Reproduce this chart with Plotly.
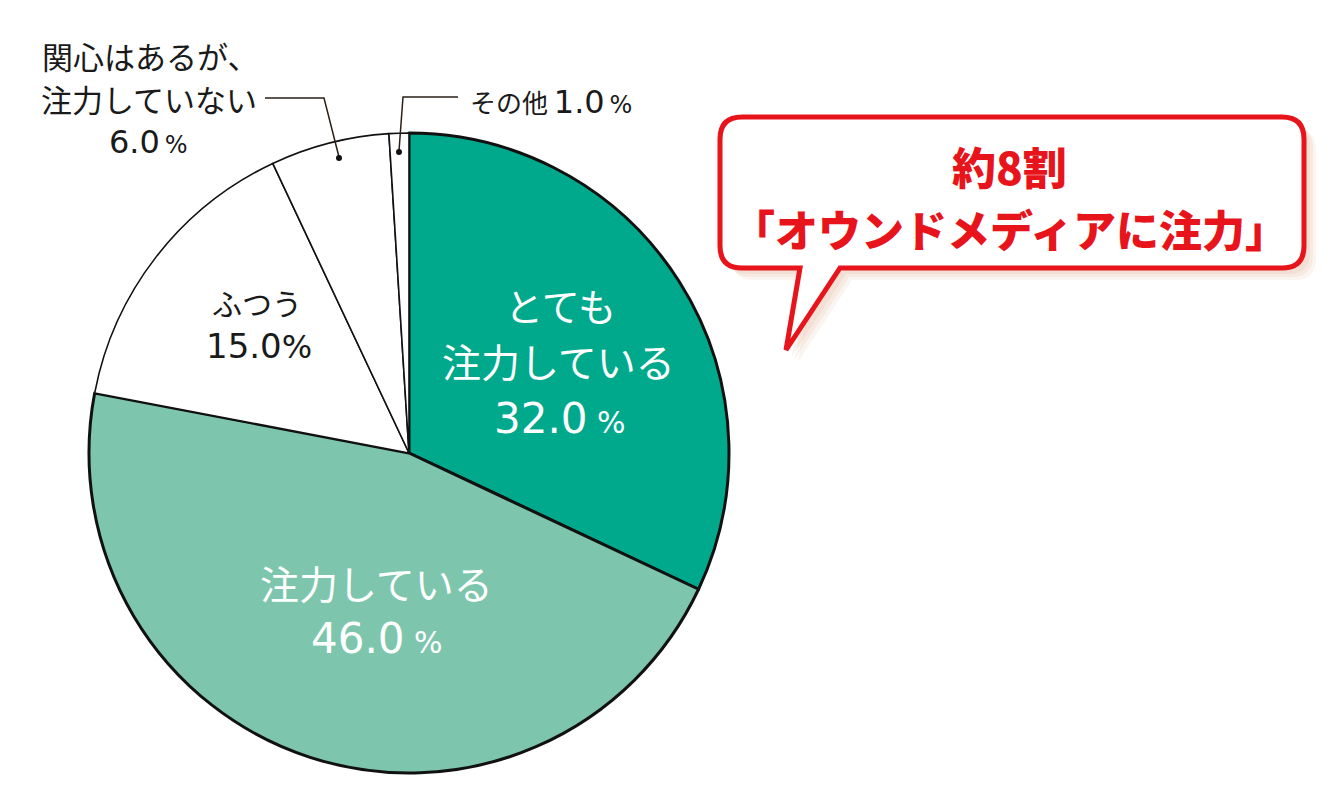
import plotly.graph_objects as go

W, H = 1330, 803
OFF = 8  # page body margin compensation

categories = ["とても注力している", "注力している", "ふつう", "関心はあるが、注力していない", "その他"]
values = [32.0, 46.0, 15.0, 6.0, 1.0]
colors = ["#00A98C", "#7DC6AD", "#FFFFFF", "#FFFFFF", "#FFFFFF"]
line_widths = [3, 3, 1.6, 1.6, 1.6]

FONT = "Noto Sans CJK JP"
NUMFONT = "DejaVu Sans"
RED = "#E8141B"
INK = "#1a1a1a"


def px(x):
    return (x - OFF) / W


def py(y):
    return 1 - (y - OFF) / H


fig = go.Figure()
fig.add_trace(go.Pie(
    labels=categories,
    values=values,
    sort=False,
    direction="clockwise",
    rotation=0,
    marker=dict(colors=colors, line=dict(color="#111111", width=line_widths)),
    textinfo="none",
    hoverinfo="label+percent",
    showlegend=False,
    domain=dict(x=[px(89), px(729)], y=[py(773), py(133)]),
))

annotations = []


def add_text(x, y, text, size, color=INK, bold=False, align="center"):
    annotations.append(dict(
        x=px(x), y=py(y), xref="paper", yref="paper", text=text,
        showarrow=False, xanchor="center", yanchor="middle", align=align,
        font=dict(family=FONT, size=size, color=color,
                  weight=900 if bold else "normal"),
    ))


def pct(v, big, small, sep=" "):
    return (f"<span style='font-family:{NUMFONT};font-size:{big}px'>{v:.1f}</span>"
            f"<span style='font-family:{NUMFONT};font-size:{small}px'>{sep}%</span>")


# slice labels
add_text(560, 305, categories[0][:3], 38, "white")
add_text(558, 360, categories[0][3:], 39, "white")
add_text(560, 418, pct(values[0], 42, 30), 42, "white")

add_text(376, 582, categories[1], 39, "white")
add_text(377, 638, pct(values[1], 42, 30), 42, "white")

add_text(257, 302, categories[2], 30)
add_text(259, 346, pct(values[2], 34, 32, ""), 34)

add_text(150, 55, "関心はあるが、", 31)
add_text(149, 98, "注力していない", 31)
add_text(148, 142, pct(values[3], 32, 24, "\u2009"), 32)

add_text(551, 102, "その他 " + pct(values[4], 32, 24, "\u2009"), 26)

# callout text
add_text(1010, 166, "約8割", 44, RED, bold=True)
add_text(1010, 228, "「オウンドメディアに注力」", 43, RED, bold=True)

shapes = []

# leader lines
shapes.append(dict(type="path", xref="paper", yref="paper",
                   path=f"M {px(265)},{py(98)} L {px(324)},{py(98)} L {px(339)},{py(157)}",
                   line=dict(color="#2a2018", width=1.5)))
shapes.append(dict(type="circle", xref="paper", yref="paper",
                   x0=px(336), x1=px(342), y0=py(161), y1=py(155),
                   fillcolor="#111111", line=dict(width=0)))
shapes.append(dict(type="path", xref="paper", yref="paper",
                   path=f"M {px(458)},{py(97)} L {px(403)},{py(97)} L {px(399)},{py(151)}",
                   line=dict(color="#2a2018", width=1.5)))
shapes.append(dict(type="circle", xref="paper", yref="paper",
                   x0=px(396), x1=px(402), y0=py(155), y1=py(149),
                   fillcolor="#111111", line=dict(width=0)))


def bubble(dx, dy):
    x0, x1, y0, y1, r = 720 + dx, 1304 + dx, 117 + dy, 268 + dy, 22
    tl, tr, tip = 800 + dx, 840 + dx, (786 + dx, 350 + dy)
    pts = [
        f"M {px(x0 + r)},{py(y0)}",
        f"L {px(x1 - r)},{py(y0)}",
        f"Q {px(x1)},{py(y0)} {px(x1)},{py(y0 + r)}",
        f"L {px(x1)},{py(y1 - r)}",
        f"Q {px(x1)},{py(y1)} {px(x1 - r)},{py(y1)}",
        f"L {px(tr)},{py(y1)}",
        f"L {px(tip[0])},{py(tip[1])}",
        f"L {px(tl)},{py(y1)}",
        f"L {px(x0 + r)},{py(y1)}",
        f"Q {px(x0)},{py(y1)} {px(x0)},{py(y1 - r)}",
        f"L {px(x0)},{py(y0 + r)}",
        f"Q {px(x0)},{py(y0)} {px(x0 + r)},{py(y0)} Z",
    ]
    return " ".join(pts)


# shadow layers
for i, a in enumerate([0.10, 0.12, 0.14]):
    d = 12 - i * 3
    shapes.append(dict(type="path", xref="paper", yref="paper", layer="below",
                       path=bubble(d, d), fillcolor=f"rgba(215,160,120,{a})",
                       line=dict(width=0)))
shapes.append(dict(type="path", xref="paper", yref="paper",
                   path=bubble(0, 0), fillcolor="white",
                   line=dict(color=RED, width=5)))

fig.update_layout(
    width=W, height=H,
    margin=dict(l=0, r=0, t=0, b=0),
    paper_bgcolor="white", plot_bgcolor="white",
    shapes=shapes, annotations=annotations,
    font=dict(family=FONT),
)

fig.write_html("out.html")
